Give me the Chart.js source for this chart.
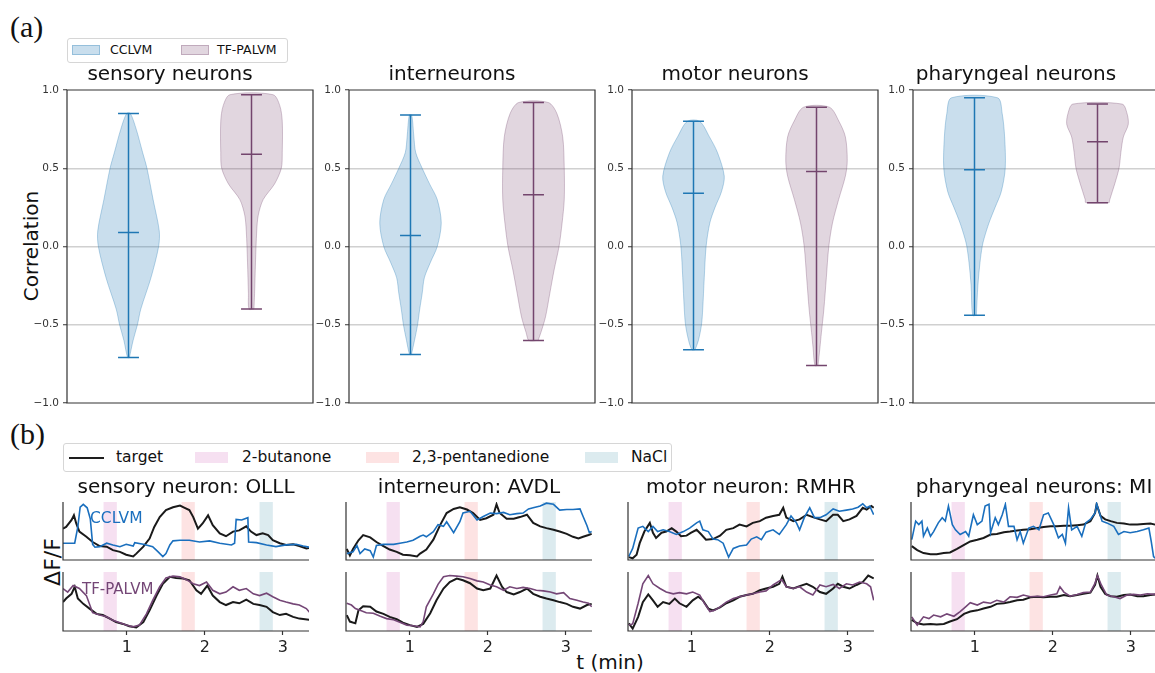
<!DOCTYPE html>
<html>
<head>
<meta charset="utf-8">
<script src="https://cdn.jsdelivr.net/npm/chart.js@4.4.0/dist/chart.umd.min.js"></script>
<style>
  html, body { margin: 0; padding: 0; width: 1155px; height: 673px; overflow: hidden; background: #fff; }
  body { position: relative; font-family: 'DejaVu Sans', sans-serif; color: #111; }
  canvas { position: absolute; }
  .txt { position: absolute; white-space: nowrap; line-height: 1; }
  .mid { transform: translate(-50%, -50%); }
  .panel { font-family: 'Liberation Serif', 'DejaVu Serif', serif; font-size: 30px; }
  .legend { position: absolute; border: 1px solid #d6d6d6; border-radius: 3px; background: #fff; box-sizing: border-box; }
  .legend span { position: absolute; white-space: nowrap; line-height: 1; }
</style>
</head>
<body>

<div class="txt panel" style="left:10px;top:12px;">(a)</div>
<div class="txt panel" style="left:10px;top:419px;">(b)</div>

<!-- legend (a) -->
<div class="legend" style="left:67px;top:38px;width:221px;height:25px;">
  <span style="left:4px;top:6px;width:28px;height:10px;background:rgba(31,119,180,0.24);border:1px solid rgba(31,119,180,0.3);box-sizing:border-box;"></span>
  <span style="left:42px;top:5px;font-size:12.5px;">CCLVM</span>
  <span style="left:113px;top:6px;width:28px;height:10px;background:rgba(117,68,110,0.22);border:1px solid rgba(117,68,110,0.3);box-sizing:border-box;"></span>
  <span style="left:149px;top:5px;font-size:12.5px;">TF-PALVM</span>
</div>

<!-- legend (b) -->
<div class="legend" style="left:63px;top:443px;width:609px;height:29px;">
  <span style="left:5px;top:13px;width:35px;height:2px;background:#1e1e1e;"></span>
  <span style="left:52px;top:6px;font-size:15.5px;">target</span>
  <span style="left:131px;top:8px;width:33px;height:11px;background:#f6e0f1;"></span>
  <span style="left:178px;top:6px;font-size:15.5px;">2-butanone</span>
  <span style="left:302px;top:8px;width:33px;height:11px;background:#fde3e3;"></span>
  <span style="left:348px;top:6px;font-size:15.5px;">2,3-pentanedione</span>
  <span style="left:521px;top:8px;width:33px;height:11px;background:#dcebef;"></span>
  <span style="left:567px;top:6px;font-size:15.5px;">NaCl</span>
</div>

<div class="txt mid" style="left:31px;top:246px;font-size:20px;transform:translate(-50%,-50%) rotate(-90deg);">Correlation</div>
<div class="txt mid" style="left:53px;top:562px;font-size:22px;transform:translate(-50%,-50%) rotate(-90deg);">ΔF/F</div>
<div class="txt mid" style="left:610px;top:662px;font-size:20px;">t (min)</div>

<script>
// ---------------------------------------------------------
// (a) correlation violins
// ---------------------------------------------------------
const groups = ['sensory neurons', 'interneurons', 'motor neurons', 'pharyngeal neurons'];
const corrTicks = [-1, -0.5, 0, 0.5, 1];

const ccMin = [-0.71, -0.69, -0.66, -0.44];
const ccMax = [0.85, 0.84, 0.80, 0.95];
const ccMed = [0.09, 0.07, 0.34, 0.49];
const tfMin = [-0.40, -0.60, -0.76, 0.28];
const tfMax = [0.97, 0.92, 0.89, 0.91];
const tfMed = [0.59, 0.33, 0.48, 0.67];

// density profiles: [correlation, relative width]
const sensCC = [[-0.71,0.03],[-0.6,0.15],[-0.5,0.29],[-0.4,0.40],[-0.2,0.73],[0.0,0.98],[0.1,1.0],[0.3,0.80],[0.5,0.60],[0.6,0.46],[0.75,0.25],[0.85,0.06]];
const sensTF = [[-0.40,0.08],[-0.3,0.10],[-0.1,0.13],[0.1,0.17],[0.2,0.22],[0.3,0.38],[0.4,0.75],[0.5,0.97],[0.6,1.0],[0.8,1.0],[0.9,0.92],[0.97,0.70]];
const interCC = [[-0.69,0.03],[-0.6,0.13],[-0.5,0.23],[-0.4,0.30],[-0.3,0.38],[-0.2,0.45],[-0.1,0.65],[0.0,0.87],[0.15,1.0],[0.3,0.87],[0.4,0.62],[0.5,0.38],[0.6,0.17],[0.7,0.11],[0.84,0.04]];
const interTF = [[-0.60,0.15],[-0.55,0.24],[-0.45,0.39],[-0.3,0.53],[-0.15,0.67],[0.0,0.83],[0.15,0.93],[0.3,1.0],[0.5,1.0],[0.7,0.95],[0.85,0.76],[0.92,0.48]];
const motorCC = [[-0.66,0.05],[-0.6,0.16],[-0.5,0.26],[-0.4,0.30],[-0.2,0.35],[0.0,0.41],[0.15,0.53],[0.25,0.70],[0.35,0.91],[0.45,1.0],[0.6,0.78],[0.7,0.52],[0.8,0.20]];
const motorTF = [[-0.76,0.05],[-0.65,0.11],[-0.55,0.16],[-0.4,0.24],[-0.2,0.32],[0.0,0.40],[0.15,0.52],[0.3,0.72],[0.45,0.94],[0.55,1.0],[0.7,0.94],[0.8,0.73],[0.89,0.42]];
const pharCC = [[-0.44,0.06],[-0.25,0.11],[-0.1,0.18],[0.0,0.25],[0.05,0.31],[0.15,0.47],[0.25,0.67],[0.35,0.87],[0.5,1.0],[0.7,0.98],[0.85,0.90],[0.95,0.75]];
const pharTF = [[0.28,0.38],[0.3,0.40],[0.4,0.56],[0.5,0.70],[0.6,0.76],[0.7,0.84],[0.78,1.0],[0.85,0.96],[0.91,0.80]];

const profilesCC = [sensCC, interCC, motorCC, pharCC];
const profilesTF = [sensTF, interTF, motorTF, pharTF];

// ---------------------------------------------------------
// (b) example traces (time in min, dF/F normalised per panel)
// ---------------------------------------------------------
const stimNames = ['2-butanone', '2,3-pentanedione', 'NaCl'];
const stimStart = [0.70, 1.70, 2.70];
const stimEnd = [0.87, 1.87, 2.87];
const xTicks = [1, 2, 3];

const traceTitles = ['sensory neuron: OLLL', 'interneuron: AVDL', 'motor neuron: RMHR', 'pharyngeal neurons: MI'];

// OLLL
const tOLLL_topTarget = [0.18,0.22,0.29,0.32,0.35,0.39,0.48,0.56,0.65,0.74,0.82,0.91,0.99,1.08,1.12,1.21,1.29,1.35,1.42,1.50,1.59,1.68,1.74,1.80,1.85,1.91,1.97,2.04,2.10,2.19,2.27,2.36,2.44,2.53,2.59,2.66,2.74,2.81,2.87,2.96,3.04,3.13,3.21,3.30,3.34];
const vOLLL_topTarget = [0.54,0.57,0.69,0.77,0.63,0.49,0.40,0.31,0.24,0.23,0.17,0.14,0.09,0.06,0.11,0.23,0.37,0.57,0.74,0.86,0.91,0.94,0.90,0.86,0.74,0.54,0.63,0.77,0.60,0.46,0.41,0.49,0.51,0.58,0.49,0.43,0.46,0.43,0.34,0.29,0.26,0.27,0.24,0.20,0.21];
const tOLLL_cc = [0.18,0.33,0.37,0.40,0.44,0.49,0.53,0.56,0.59,0.65,0.74,0.82,0.91,0.99,1.08,1.10,1.21,1.33,1.40,1.46,1.50,1.55,1.59,1.68,1.80,1.93,2.06,2.19,2.34,2.38,2.40,2.47,2.55,2.56,2.66,2.79,2.91,3.04,3.17,3.26,3.34];
const vOLLL_cc = [0.29,0.29,0.57,0.91,0.96,0.90,0.71,0.27,0.22,0.23,0.29,0.26,0.23,0.27,0.24,0.30,0.27,0.23,0.14,0.06,0.11,0.26,0.33,0.34,0.34,0.31,0.33,0.29,0.26,0.29,0.70,0.69,0.73,0.31,0.30,0.26,0.23,0.26,0.27,0.24,0.22];
const tOLLL_botTarget = [0.18,0.22,0.29,0.33,0.37,0.44,0.52,0.61,0.69,0.78,0.86,0.95,1.03,1.12,1.21,1.29,1.38,1.46,1.55,1.63,1.72,1.80,1.89,1.95,2.03,2.10,2.19,2.27,2.36,2.44,2.53,2.62,2.70,2.79,2.87,2.96,3.04,3.13,3.21,3.34];
const vOLLL_botTarget = [0.49,0.55,0.63,0.75,0.55,0.46,0.38,0.29,0.27,0.21,0.15,0.12,0.08,0.06,0.15,0.35,0.60,0.80,0.92,0.90,0.89,0.86,0.69,0.63,0.77,0.60,0.49,0.44,0.49,0.47,0.53,0.46,0.44,0.41,0.32,0.27,0.29,0.24,0.21,0.19];
const tOLLL_tf = [0.18,0.24,0.31,0.39,0.48,0.56,0.65,0.74,0.82,0.91,0.99,1.08,1.16,1.25,1.33,1.42,1.50,1.59,1.68,1.76,1.85,1.93,2.02,2.10,2.19,2.27,2.36,2.44,2.53,2.62,2.70,2.79,2.87,2.96,3.04,3.13,3.21,3.30,3.34];
const vOLLL_tf = [0.72,0.66,0.77,0.72,0.60,0.31,0.27,0.24,0.18,0.14,0.10,0.07,0.10,0.29,0.52,0.75,0.90,0.93,0.92,0.87,0.80,0.77,0.83,0.69,0.63,0.66,0.75,0.69,0.72,0.63,0.60,0.64,0.58,0.52,0.49,0.46,0.44,0.38,0.32];

// AVDL
const tAVDL_topTarget = [0.19,0.23,0.27,0.34,0.40,0.49,0.57,0.66,0.74,0.83,0.91,1.00,1.09,1.13,1.21,1.30,1.39,1.47,1.56,1.64,1.73,1.81,1.90,1.98,2.07,2.11,2.15,2.24,2.33,2.41,2.50,2.58,2.67,2.75,2.84,2.92,3.01,3.09,3.16,3.22,3.29,3.33];
const vAVDL_topTarget = [0.19,0.08,0.19,0.34,0.43,0.39,0.31,0.24,0.18,0.14,0.09,0.08,0.06,0.11,0.18,0.35,0.61,0.81,0.88,0.91,0.87,0.81,0.69,0.72,0.78,0.96,0.81,0.71,0.71,0.74,0.78,0.64,0.58,0.55,0.52,0.49,0.45,0.40,0.37,0.40,0.43,0.45];
const tAVDL_cc = [0.19,0.27,0.32,0.36,0.42,0.49,0.53,0.57,0.66,0.79,0.87,0.96,1.04,1.13,1.17,1.21,1.30,1.36,1.43,1.47,1.56,1.64,1.68,1.77,1.86,1.94,2.03,2.11,2.20,2.28,2.37,2.45,2.52,2.58,2.67,2.75,2.84,2.92,3.01,3.09,3.18,3.22,3.27,3.30,3.33];
const vAVDL_cc = [0.11,0.14,0.25,0.11,0.19,0.16,0.05,0.25,0.27,0.27,0.29,0.31,0.34,0.41,0.43,0.40,0.49,0.61,0.58,0.66,0.47,0.66,0.81,0.84,0.69,0.75,0.81,0.80,0.82,0.78,0.80,0.81,0.88,0.90,0.93,0.98,0.96,0.86,0.87,0.87,0.88,0.75,0.59,0.47,0.49];
const tAVDL_botTarget = [0.19,0.23,0.30,0.34,0.40,0.49,0.57,0.66,0.74,0.83,0.91,1.00,1.09,1.17,1.26,1.34,1.43,1.51,1.60,1.68,1.77,1.86,1.94,2.03,2.11,2.18,2.24,2.33,2.41,2.50,2.58,2.67,2.75,2.84,2.92,3.01,3.09,3.18,3.27,3.33];
const vAVDL_botTarget = [0.27,0.16,0.13,0.35,0.42,0.41,0.33,0.29,0.24,0.20,0.14,0.10,0.07,0.12,0.30,0.52,0.72,0.83,0.89,0.86,0.81,0.72,0.69,0.72,0.94,0.75,0.66,0.62,0.66,0.72,0.63,0.58,0.55,0.52,0.49,0.46,0.41,0.38,0.44,0.46];
const tAVDL_tf = [0.19,0.25,0.30,0.36,0.44,0.53,0.62,0.70,0.79,0.87,0.96,1.04,1.13,1.17,1.21,1.30,1.36,1.43,1.51,1.60,1.68,1.77,1.86,1.94,2.03,2.11,2.20,2.28,2.37,2.45,2.54,2.62,2.71,2.80,2.88,2.97,3.05,3.14,3.22,3.29,3.33];
const vAVDL_tf = [0.47,0.44,0.38,0.35,0.31,0.30,0.25,0.21,0.19,0.15,0.10,0.09,0.07,0.16,0.41,0.63,0.79,0.92,0.94,0.93,0.92,0.89,0.85,0.83,0.78,0.75,0.69,0.75,0.72,0.74,0.72,0.69,0.68,0.66,0.63,0.65,0.55,0.52,0.49,0.47,0.41];

// RMHR
const tRMHR_topTarget = [0.19,0.24,0.29,0.33,0.39,0.46,0.50,0.54,0.61,0.67,0.74,0.80,0.86,0.93,0.99,1.06,1.12,1.18,1.27,1.36,1.44,1.53,1.61,1.70,1.78,1.87,1.95,2.04,2.12,2.17,2.21,2.30,2.38,2.47,2.55,2.64,2.72,2.81,2.87,2.94,3.02,3.11,3.19,3.24,3.30,3.33];
const vRMHR_topTarget = [0.05,0.03,0.09,0.29,0.49,0.64,0.47,0.38,0.47,0.49,0.55,0.49,0.41,0.42,0.47,0.52,0.44,0.35,0.36,0.42,0.52,0.55,0.61,0.58,0.64,0.67,0.73,0.76,0.78,0.90,0.73,0.67,0.70,0.78,0.74,0.70,0.67,0.78,0.78,0.67,0.70,0.76,0.90,0.87,0.93,0.90];
const tRMHR_cc = [0.19,0.24,0.31,0.37,0.44,0.50,0.56,0.63,0.71,0.80,0.89,0.97,1.06,1.10,1.14,1.21,1.27,1.33,1.40,1.44,1.47,1.53,1.61,1.70,1.76,1.83,1.89,1.95,2.04,2.12,2.21,2.27,2.34,2.38,2.44,2.51,2.57,2.64,2.72,2.81,2.89,2.98,3.06,3.13,3.19,3.24,3.28,3.33];
const vRMHR_cc = [0.06,0.20,0.55,0.58,0.49,0.58,0.49,0.52,0.49,0.44,0.49,0.55,0.64,0.67,0.52,0.49,0.36,0.35,0.29,0.15,0.05,0.20,0.24,0.26,0.36,0.40,0.35,0.48,0.52,0.44,0.61,0.76,0.64,0.52,0.73,0.90,0.73,0.73,0.78,0.88,0.84,0.86,0.88,0.91,0.97,0.90,0.93,0.78];
const tRMHR_botTarget = [0.19,0.24,0.31,0.37,0.44,0.50,0.56,0.63,0.71,0.78,0.84,0.93,1.01,1.08,1.14,1.21,1.27,1.36,1.44,1.53,1.61,1.70,1.78,1.87,1.95,2.04,2.12,2.16,2.21,2.30,2.38,2.47,2.55,2.64,2.72,2.81,2.87,2.94,3.02,3.11,3.19,3.26,3.33];
const vRMHR_botTarget = [0.13,0.04,0.24,0.49,0.62,0.52,0.41,0.49,0.46,0.55,0.47,0.41,0.52,0.58,0.52,0.38,0.35,0.40,0.47,0.52,0.58,0.61,0.63,0.69,0.72,0.75,0.80,0.92,0.75,0.72,0.76,0.80,0.75,0.66,0.63,0.72,0.80,0.75,0.72,0.78,0.83,0.94,0.89];
const tRMHR_tf = [0.19,0.24,0.31,0.37,0.44,0.50,0.59,0.67,0.76,0.84,0.93,1.01,1.10,1.16,1.23,1.29,1.36,1.44,1.53,1.61,1.70,1.78,1.87,1.95,2.04,2.15,2.21,2.30,2.38,2.47,2.55,2.64,2.72,2.81,2.89,2.98,3.06,3.15,3.24,3.29,3.33];
const vRMHR_tf = [0.10,0.12,0.47,0.80,0.94,0.80,0.72,0.66,0.63,0.65,0.63,0.66,0.61,0.47,0.33,0.35,0.41,0.49,0.55,0.58,0.61,0.63,0.66,0.68,0.78,0.87,0.75,0.72,0.75,0.66,0.61,0.78,0.75,0.79,0.72,0.80,0.78,0.83,0.80,0.75,0.52];

// MI
const tMI_topTarget = [0.19,0.26,0.34,0.43,0.51,0.60,0.68,0.77,0.86,0.94,1.03,1.11,1.20,1.28,1.37,1.45,1.54,1.62,1.71,1.80,1.88,1.97,2.05,2.14,2.22,2.31,2.39,2.48,2.54,2.56,2.61,2.67,2.74,2.82,2.91,2.99,3.08,3.16,3.25,3.31];
const vMI_topTarget = [0.24,0.17,0.12,0.10,0.10,0.12,0.13,0.19,0.26,0.32,0.35,0.38,0.44,0.45,0.48,0.49,0.51,0.52,0.53,0.55,0.57,0.58,0.58,0.59,0.59,0.60,0.61,0.67,0.81,0.96,0.76,0.70,0.67,0.64,0.63,0.61,0.61,0.62,0.63,0.61];
const tMI_cc = [0.19,0.24,0.28,0.32,0.34,0.39,0.43,0.47,0.53,0.58,0.62,0.66,0.71,0.75,0.81,0.88,0.92,0.98,1.03,1.09,1.13,1.18,1.20,1.26,1.30,1.35,1.39,1.43,1.50,1.54,1.58,1.62,1.69,1.75,1.82,1.88,1.94,2.01,2.07,2.12,2.16,2.20,2.24,2.31,2.37,2.42,2.48,2.54,2.56,2.63,2.69,2.78,2.84,2.91,2.99,3.08,3.16,3.23,3.26,3.29,3.31];
const vMI_cc = [0.35,0.67,0.61,0.67,0.41,0.55,0.41,0.49,0.64,0.73,0.67,0.93,0.61,0.52,0.44,0.49,0.41,0.78,0.61,0.67,0.93,0.96,0.47,0.73,0.61,0.78,0.96,0.58,0.58,0.35,0.49,0.29,0.55,0.58,0.52,0.78,0.81,0.61,0.38,0.44,0.29,0.90,0.52,0.58,0.41,0.64,0.70,0.81,0.97,0.67,0.64,0.58,0.44,0.49,0.47,0.49,0.52,0.55,0.32,0.06,0.03];
const tMI_botTarget = [0.19,0.26,0.34,0.43,0.51,0.60,0.68,0.77,0.86,0.94,1.03,1.11,1.20,1.28,1.37,1.45,1.54,1.62,1.71,1.80,1.88,1.97,2.05,2.14,2.22,2.31,2.39,2.48,2.54,2.57,2.61,2.67,2.74,2.82,2.91,2.99,3.08,3.16,3.25,3.31];
const vMI_botTarget = [0.19,0.13,0.11,0.12,0.11,0.12,0.16,0.20,0.29,0.33,0.35,0.38,0.41,0.46,0.47,0.49,0.52,0.53,0.57,0.58,0.57,0.58,0.58,0.61,0.59,0.61,0.63,0.65,0.78,0.94,0.75,0.63,0.59,0.58,0.61,0.62,0.59,0.59,0.61,0.62];
const tMI_tf = [0.19,0.26,0.34,0.41,0.47,0.56,0.64,0.73,0.81,0.88,0.94,1.03,1.11,1.20,1.28,1.37,1.45,1.54,1.62,1.71,1.80,1.88,1.97,2.05,2.09,2.14,2.22,2.31,2.39,2.48,2.54,2.57,2.62,2.69,2.78,2.86,2.95,3.03,3.12,3.21,3.31];
const vMI_tf = [0.24,0.10,0.24,0.21,0.27,0.24,0.29,0.25,0.33,0.41,0.48,0.44,0.49,0.47,0.52,0.49,0.58,0.57,0.61,0.58,0.59,0.58,0.61,0.63,0.75,0.66,0.59,0.62,0.65,0.66,0.81,0.94,0.78,0.61,0.58,0.55,0.61,0.62,0.61,0.63,0.62];

// =========================================================
// Colores y estilo
// =========================================================
const blue = '#1f77b4';
const blueFill = 'rgba(31,119,180,0.24)';
const blueEdge = 'rgba(31,119,180,0.30)';
const plum = '#73456d';
const plumFill = 'rgba(117,68,110,0.22)';
const plumEdge = 'rgba(117,68,110,0.30)';
const traceBlue = '#1a6fbe';
const tracePlum = '#744676';
const black = '#1a1a1a';
const bandColors = ['#f6e0f1', '#fde3e3', '#dcebef'];
const axisColor = '#333';

const violinHalf = 0.25;   // max half width, x units
const capHalf = 0.085;

Chart.defaults.font.family = "'DejaVu Sans', sans-serif";
Chart.defaults.color = '#222';

const aLefts = [67, 349, 632, 913];
const bLefts = [63, 346, 628, 911];
const tMin = 0.18, tMax = 3.334;

// plugin: axes frame (full box or left+bottom spines)
const framePlugin = {
  id: 'frame',
  afterDatasetsDraw(chart, args, opts) {
    const { ctx, chartArea: a } = chart;
    ctx.save();
    ctx.strokeStyle = axisColor;
    ctx.lineWidth = 1.2;
    ctx.beginPath();
    if (opts.box) {
      ctx.rect(a.left, a.top, a.right - a.left, a.bottom - a.top);
    } else {
      ctx.moveTo(a.left, a.top);
      ctx.lineTo(a.left, a.bottom);
      ctx.lineTo(a.right, a.bottom);
    }
    ctx.stroke();
    ctx.restore();
  }
};

function makeCanvas(left, top, w, h) {
  const c = document.createElement('canvas');
  c.width = w; c.height = h;
  c.style.left = left + 'px'; c.style.top = top + 'px';
  c.style.width = w + 'px'; c.style.height = h + 'px';
  document.body.appendChild(c);
  return c;
}

function violinDs(profile, pos, fill, edge) {
  const right = profile.map(([y, w]) => ({ x: pos + w * violinHalf, y }));
  const left = profile.slice().reverse().map(([y, w]) => ({ x: pos - w * violinHalf, y }));
  return {
    data: right.concat(left, [right[0]]),
    showLine: true, fill: 'shape', tension: 0.3,
    backgroundColor: fill, borderColor: edge, borderWidth: 1,
    pointRadius: 0, order: 2
  };
}

function statDs(pos, lo, hi, med, color) {
  const c = capHalf;
  return {
    data: [
      { x: pos - c, y: lo }, { x: pos + c, y: lo }, { x: pos, y: lo }, { x: pos, y: med },
      { x: pos - c, y: med }, { x: pos + c, y: med }, { x: pos, y: med }, { x: pos, y: hi },
      { x: pos - c, y: hi }, { x: pos + c, y: hi }
    ],
    showLine: true, fill: false, tension: 0,
    borderColor: color, borderWidth: 1.5, borderJoinStyle: 'bevel',
    pointRadius: 0, order: 1
  };
}

const fmtCorr = v => (v < 0 ? '\u2212' : '') + Math.abs(v).toFixed(1);

// --- panel (a) ---
groups.forEach((name, i) => {
  const canvas = makeCanvas(aLefts[i] - 44, 63, 246 + 48, 352);
  new Chart(canvas, {
    type: 'scatter',
    data: {
      datasets: [
        violinDs(profilesCC[i], 1, blueFill, blueEdge),
        violinDs(profilesTF[i], 2, plumFill, plumEdge),
        statDs(1, ccMin[i], ccMax[i], ccMed[i], blue),
        statDs(2, tfMin[i], tfMax[i], tfMed[i], plum)
      ]
    },
    options: {
      responsive: false, animation: false, events: [],
      layout: { padding: { left: 4, right: 4, top: 0, bottom: 12 } },
      plugins: {
        legend: { display: false },
        tooltip: { enabled: false },
        title: { display: true, text: name, color: '#111', font: { size: 20, weight: 'normal' }, padding: { top: 0, bottom: 3 } },
        frame: { box: true }
      },
      scales: {
        x: { type: 'linear', min: 0.5, max: 2.5, display: false },
        y: {
          min: -1, max: 1,
          afterFit: s => { s.width = 40; },
          afterBuildTicks: s => { s.ticks = corrTicks.map(v => ({ value: v })); },
          ticks: { font: { size: 10.5 }, color: axisColor, padding: 4, callback: fmtCorr },
          grid: {
            color: c => Math.abs(c.tick.value) === 1 ? 'rgba(0,0,0,0)' : '#d0d0d0',
            lineWidth: 1.5, tickColor: axisColor, tickLength: 4, tickWidth: 1
          },
          border: { display: false }
        }
      }
    },
    plugins: [framePlugin]
  });
});

// --- panel (b) ---
const toPts = (t, v) => t.map((x, k) => ({ x, y: v[k] }));

const topTargets = [toPts(tOLLL_topTarget, vOLLL_topTarget), toPts(tAVDL_topTarget, vAVDL_topTarget), toPts(tRMHR_topTarget, vRMHR_topTarget), toPts(tMI_topTarget, vMI_topTarget)];
const topModels = [toPts(tOLLL_cc, vOLLL_cc), toPts(tAVDL_cc, vAVDL_cc), toPts(tRMHR_cc, vRMHR_cc), toPts(tMI_cc, vMI_cc)];
const botTargets = [toPts(tOLLL_botTarget, vOLLL_botTarget), toPts(tAVDL_botTarget, vAVDL_botTarget), toPts(tRMHR_botTarget, vRMHR_botTarget), toPts(tMI_botTarget, vMI_botTarget)];
const botModels = [toPts(tOLLL_tf, vOLLL_tf), toPts(tAVDL_tf, vAVDL_tf), toPts(tRMHR_tf, vRMHR_tf), toPts(tMI_tf, vMI_tf)];

function bandDatasets() {
  return stimNames.map((n, k) => ({
    label: n,
    data: [{ x: stimStart[k], y: 0 }, { x: stimStart[k], y: 1 }, { x: stimEnd[k], y: 1 }, { x: stimEnd[k], y: 0 }],
    showLine: true, fill: 'shape', backgroundColor: bandColors[k], borderWidth: 0,
    pointRadius: 0, order: 3
  }));
}

function traceDs(points, color, width, order) {
  return { data: points, showLine: true, fill: false, borderColor: color, borderWidth: width, tension: 0, pointRadius: 0, order };
}

function traceChart(col, isTop) {
  const L = bLefts[col];
  const canvas = isTop ? makeCanvas(L - 4, 476, 254, 88) : makeCanvas(L - 4, 568, 254, 91);
  const target = isTop ? topTargets[col] : botTargets[col];
  const model = isTop ? topModels[col] : botModels[col];
  const xScale = {
    type: 'linear', min: tMin, max: tMax, display: !isTop,
    afterBuildTicks: s => { s.ticks = xTicks.map(v => ({ value: v })); },
    ticks: { font: { size: 16 }, color: '#222', padding: 3 },
    grid: { display: true, drawOnChartArea: false, drawTicks: true, tickLength: 4, tickColor: axisColor, tickWidth: 1.2 },
    border: { display: false }
  };
  if (!isTop) xScale.afterFit = s => { s.height = 28; };
  new Chart(canvas, {
    type: 'scatter',
    data: {
      datasets: bandDatasets().concat([
        traceDs(target, black, 2, 2),
        traceDs(model, isTop ? traceBlue : tracePlum, 1.6, 1)
      ])
    },
    options: {
      responsive: false, animation: false, events: [],
      layout: { padding: isTop ? { left: 4, right: 4, top: 0, bottom: 4 } : { left: 4, right: 4, top: 4, bottom: 0 } },
      plugins: {
        legend: { display: false },
        tooltip: { enabled: false },
        title: { display: isTop, text: traceTitles[col], color: '#111', font: { size: 20, weight: 'normal' }, padding: { top: 0, bottom: 2 } },
        frame: { box: false }
      },
      scales: {
        x: xScale,
        y: { min: 0, max: 1, display: false }
      }
    },
    plugins: [framePlugin]
  });
}

for (let c = 0; c < 4; c++) {
  traceChart(c, true);
  traceChart(c, false);
}
</script>

<div class="txt" style="left:90px;top:511px;font-size:15.5px;color:#1a6fbe;">CCLVM</div>
<div class="txt" style="left:82px;top:582px;font-size:15px;color:#744676;">TF-PALVM</div>

</body>
</html>
